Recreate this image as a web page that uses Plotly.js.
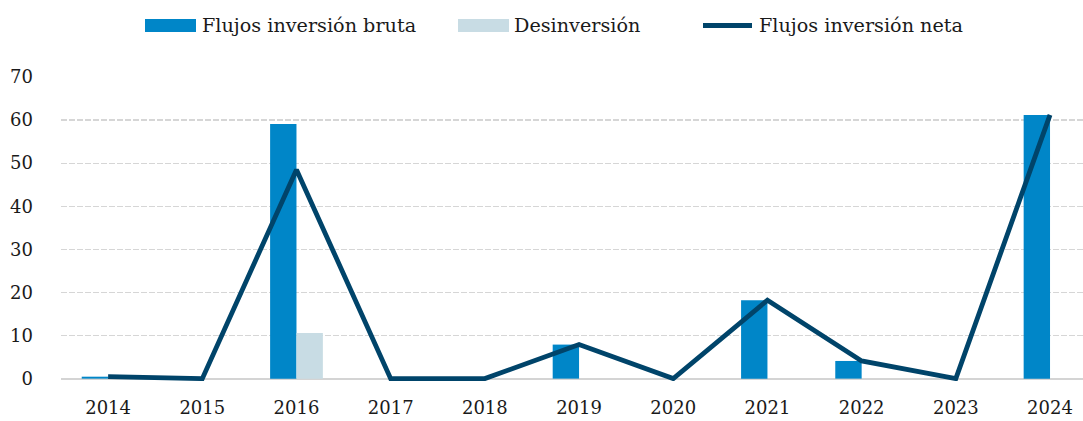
<!DOCTYPE html>
<html>
<head>
<meta charset="utf-8">
<script src="https://cdn.plot.ly/plotly-3.0.1.min.js"></script>
<style>html,body{margin:0;padding:0;background:#fff;}#chart{width:1083px;height:421px;}</style>
</head>
<body>
<div id="chart"></div>
<script>
var years = ["2014","2015","2016","2017","2018","2019","2020","2021","2022","2023","2024"];
var brutaValues = [0.45, 0, 59.1, 0, 0, 7.9, 0, 18.2, 4.1, 0, 61.2];
var desinversionValues = [0, 0, 10.6, 0, 0, 0, 0, 0, 0, 0, 0];
var netaValues = [0.45, 0, 48.5, 0, 0, 7.9, 0, 18.2, 4.1, 0, 61.2];
var yTicks = [0, 10, 20, 30, 40, 50, 60, 70];
var seriesNames = ["Flujos inversión bruta", "Desinversión", "Flujos inversión neta"];
var seriesColors = ["#0086C8", "#C8DCE4", "#00446A"];

var FONT = "DejaVu Serif, serif";
var W = 1083, H = 421;
var M = {l: 61, r: 0, t: 77, b: 40};
var PW = W - M.l - M.r, PH = H - M.t - M.b;
function px(x) { return (x - M.l) / PW; }
function py(y) { return (H - M.b - y) / PH; }

var traces = [
  {type: "bar", name: seriesNames[0], x: years, y: brutaValues,
   marker: {color: seriesColors[0]}},
  {type: "bar", name: seriesNames[1], x: years, y: desinversionValues,
   marker: {color: seriesColors[1]}},
  {type: "scatter", mode: "lines", name: seriesNames[2], x: years, y: netaValues,
   line: {color: seriesColors[2], width: 4.8}}
];

// custom legend (swatch geometry in pixels)
var legendItems = [
  {sx0: 145, sx1: 196, tx: 200, kind: "bar"},
  {sx0: 458, sx1: 509, tx: 512, kind: "bar"},
  {sx0: 703, sx1: 752, tx: 757, kind: "line"}
];
var shapes = [], annotations = [];
legendItems.forEach(function (it, i) {
  if (it.kind === "bar") {
    shapes.push({type: "rect", xref: "paper", yref: "paper",
      x0: px(it.sx0), x1: px(it.sx1), y0: py(32), y1: py(19),
      line: {width: 0}, fillcolor: seriesColors[i]});
  } else {
    shapes.push({type: "line", xref: "paper", yref: "paper",
      x0: px(it.sx0), x1: px(it.sx1), y0: py(25.5), y1: py(25.5),
      line: {width: 5, color: seriesColors[i]}});
  }
  annotations.push({xref: "paper", yref: "paper", x: px(it.tx), y: py(25),
    xanchor: "left", yanchor: "middle", showarrow: false, text: seriesNames[i],
    font: {family: FONT, size: 19.2, color: "#1a1a1a"}});
});

var layout = {
  width: W, height: H,
  margin: M,
  paper_bgcolor: "#fff", plot_bgcolor: "#fff",
  font: {family: FONT, size: 18, color: "#1a1a1a"},
  barmode: "group", bargap: 0.44, bargroupgap: 0,
  showlegend: false,
  shapes: shapes,
  annotations: annotations,
  xaxis: {type: "category", range: [-0.5, 10.35], showgrid: false, zeroline: false,
          showline: false, ticks: "", ticklabelstandoff: 14,
          tickfont: {family: FONT, size: 18, color: "#1a1a1a"}},
  yaxis: {range: [-0.55, 70], tickvals: yTicks, showgrid: true, gridcolor: "#d6d6d6",
          griddash: "6px,2px", gridwidth: 1.3, zeroline: true, zerolinecolor: "#d4d4d4",
          zerolinewidth: 1.8, showline: false, ticks: "", ticklabelstandoff: 27,
          tickfont: {family: FONT, size: 18, color: "#1a1a1a"}}
};
Plotly.newPlot("chart", traces, layout, {displayModeBar: false, staticPlot: true});
</script>
</body>
</html>
